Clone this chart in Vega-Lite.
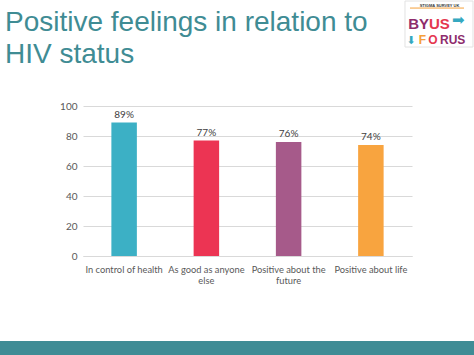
{
  "$schema": "https://vega.github.io/schema/vega-lite/v6.json",
  "padding": {"left": 0, "top": 0, "right": 0, "bottom": 0},
  "background": "white",
  "spacing": 55,
  "title": {
    "text": ["Positive feelings in relation to", "HIV status"],
    "anchor": "start",
    "frame": "bounds",
    "dx": 5,
    "fontSize": 28,
    "font": "Liberation Sans",
    "fontWeight": "normal",
    "color": "#3f8c94",
    "lineHeight": 32,
    "offset": -68
  },
  "config": {"view": {"stroke": null}},
  "vconcat": [
    {
      "width": 329,
      "height": 150,
      "resolve": {"scale": {"x": "independent"}, "axis": {"y": "independent"}},
      "layer": [
        {
          "data": {
            "values": [
              {"feeling": "In control of health", "pct": 89, "label": "89%"},
              {"feeling": "As good as anyone else", "pct": 77, "label": "77%"},
              {"feeling": "Positive about the future", "pct": 76, "label": "76%"},
              {"feeling": "Positive about life", "pct": 74, "label": "74%"}
            ]
          },
          "encoding": {
            "x": {
              "field": "feeling",
              "type": "nominal",
              "sort": null,
              "scale": {"paddingInner": 0, "paddingOuter": 0},
              "axis": {
                "title": null,
                "labelAngle": 0,
                "labelFont": "Lato",
                "labelFontSize": 9.3,
                "labelColor": "#595959",
                "labelPadding": 9,
                "labelLineHeight": 11,
                "labelLimit": 0,
                "ticks": false,
                "domain": true,
                "domainColor": "#d9d9d9",
                "labelExpr": "datum.label == 'As good as anyone else' ? ['As good as anyone', 'else'] : datum.label == 'Positive about the future' ? ['Positive about the', 'future'] : datum.label"
              }
            },
            "y": {
              "field": "pct",
              "type": "quantitative",
              "scale": {"domain": [0, 100], "nice": false},
              "axis": {
                "title": null,
                "values": [0, 20, 40, 60, 80, 100],
                "grid": true,
                "gridColor": "#d9d9d9",
                "domain": false,
                "ticks": false,
                "labelFont": "Lato",
                "labelFontSize": 10,
                "labelColor": "#595959",
                "labelPadding": 6,
                "minExtent": 83
              }
            }
          },
          "layer": [
            {
              "mark": {"type": "bar", "width": {"band": 0.31}},
              "encoding": {
                "color": {
                  "field": "feeling",
                  "type": "nominal",
                  "sort": null,
                  "scale": {
                    "domain": ["In control of health", "As good as anyone else", "Positive about the future", "Positive about life"],
                    "range": ["#3cb0c5", "#ec3453", "#a65a8a", "#f8a43f"]
                  },
                  "legend": null
                }
              }
            },
            {
              "mark": {"type": "text", "dy": -8, "font": "Lato", "fontSize": 10, "color": "#404040"},
              "encoding": {"text": {"field": "label", "type": "nominal"}}
            }
          ]
        },
        {
          "data": {"values": [{"logo": "frame"}]},
          "mark": {"type": "rect", "fill": "white", "stroke": "#e2e2e2", "strokeWidth": 1},
          "encoding": {
            "x": {"datum": 0.9787, "type": "quantitative", "scale": {"domain": [0, 1], "nice": false, "zero": false}, "axis": null},
            "x2": {"datum": 1.1854},
            "y": {"datum": 170, "type": "quantitative", "scale": {"domain": [0, 100], "nice": false}, "axis": null},
            "y2": {"datum": 139.33}
          }
        },
        {
          "data": {"values": [{"logo": "STIGMA SURVEY UK"}]},
          "mark": {"type": "text", "font": "Liberation Sans", "fontWeight": "bold", "fontSize": 4, "color": "#3a3a3a", "align": "center", "baseline": "alphabetic"},
          "encoding": {
            "x": {"datum": 1.0836, "type": "quantitative", "scale": {"domain": [0, 1], "nice": false, "zero": false}, "axis": null},
            "y": {"datum": 166.3, "type": "quantitative", "scale": {"domain": [0, 100], "nice": false}, "axis": null},
            "text": {"field": "logo"}
          }
        },
        {
          "data": {"values": [{"logo": "underline"}]},
          "mark": {"type": "rule", "color": "#f5a03a", "strokeWidth": 1},
          "encoding": {
            "x": {"datum": 0.9939, "type": "quantitative", "scale": {"domain": [0, 1], "nice": false, "zero": false}, "axis": null},
            "x2": {"datum": 1.1581},
            "y": {"datum": 165.3, "type": "quantitative", "scale": {"domain": [0, 100], "nice": false}, "axis": null}
          }
        },
        {
          "data": {"values": [{"logo": "BY"}]},
          "mark": {"type": "text", "font": "Liberation Sans", "fontWeight": "bold", "fontSize": 15, "color": "#8e2c6c", "align": "right", "baseline": "alphabetic"},
          "encoding": {
            "x": {"datum": 1.0517, "type": "quantitative", "scale": {"domain": [0, 1], "nice": false, "zero": false}, "axis": null},
            "y": {"datum": 151.33, "type": "quantitative", "scale": {"domain": [0, 100], "nice": false}, "axis": null},
            "text": {"field": "logo"}
          }
        },
        {
          "data": {"values": [{"logo": "US"}]},
          "mark": {"type": "text", "font": "Liberation Sans", "fontWeight": "bold", "fontSize": 15, "color": "#e5384f", "align": "left", "baseline": "alphabetic"},
          "encoding": {
            "x": {"datum": 1.0517, "type": "quantitative", "scale": {"domain": [0, 1], "nice": false, "zero": false}, "axis": null},
            "y": {"datum": 151.33, "type": "quantitative", "scale": {"domain": [0, 100], "nice": false}, "axis": null},
            "text": {"field": "logo"}
          }
        },
        {
          "data": {"values": [{"logo": "➡"}]},
          "mark": {"type": "text", "font": "DejaVu Sans", "fontSize": 15, "color": "#35a8c0", "align": "left", "baseline": "alphabetic"},
          "encoding": {
            "x": {"datum": 1.1216, "type": "quantitative", "scale": {"domain": [0, 1], "nice": false, "zero": false}, "axis": null},
            "y": {"datum": 154, "type": "quantitative", "scale": {"domain": [0, 100], "nice": false}, "axis": null},
            "text": {"field": "logo"}
          }
        },
        {
          "data": {"values": [{"logo": "⬇"}]},
          "mark": {"type": "text", "font": "DejaVu Sans", "fontSize": 11, "color": "#35a8c0", "align": "center", "baseline": "alphabetic"},
          "encoding": {
            "x": {"datum": 0.997, "type": "quantitative", "scale": {"domain": [0, 1], "nice": false, "zero": false}, "axis": null},
            "y": {"datum": 141.33, "type": "quantitative", "scale": {"domain": [0, 100], "nice": false}, "axis": null},
            "text": {"field": "logo"}
          }
        },
        {
          "data": {"values": [{"logo": "F"}]},
          "mark": {"type": "text", "font": "Liberation Sans", "fontWeight": "bold", "fontSize": 12, "color": "#f5a03a", "align": "right", "baseline": "alphabetic"},
          "encoding": {
            "x": {"datum": 1.0426, "type": "quantitative", "scale": {"domain": [0, 1], "nice": false, "zero": false}, "axis": null},
            "y": {"datum": 141.33, "type": "quantitative", "scale": {"domain": [0, 100], "nice": false}, "axis": null},
            "text": {"field": "logo"}
          }
        },
        {
          "data": {"values": [{"logo": "O"}]},
          "mark": {"type": "text", "font": "Liberation Sans", "fontWeight": "bold", "fontSize": 12, "color": "#e5384f", "align": "center", "baseline": "alphabetic"},
          "encoding": {
            "x": {"datum": 1.0638, "type": "quantitative", "scale": {"domain": [0, 1], "nice": false, "zero": false}, "axis": null},
            "y": {"datum": 141.33, "type": "quantitative", "scale": {"domain": [0, 100], "nice": false}, "axis": null},
            "text": {"field": "logo"}
          }
        },
        {
          "data": {"values": [{"logo": "RUS"}]},
          "mark": {"type": "text", "font": "Liberation Sans", "fontWeight": "bold", "fontSize": 12, "color": "#8e2c6c", "align": "left", "baseline": "alphabetic"},
          "encoding": {
            "x": {"datum": 1.0851, "type": "quantitative", "scale": {"domain": [0, 1], "nice": false, "zero": false}, "axis": null},
            "y": {"datum": 141.33, "type": "quantitative", "scale": {"domain": [0, 100], "nice": false}, "axis": null},
            "text": {"field": "logo"}
          }
        }
      ]
    },
    {
      "width": 391,
      "height": 16,
      "data": {"values": [{"band": 1, "row": "footer"}]},
      "mark": {"type": "bar", "color": "#3f8c95"},
      "encoding": {
        "x": {"field": "band", "type": "quantitative", "scale": {"domain": [0, 1], "nice": false, "range": [-83, 391]}, "axis": null},
        "y": {"field": "row", "type": "nominal", "scale": {"paddingInner": 0, "paddingOuter": 0}, "axis": null}
      }
    }
  ]
}
